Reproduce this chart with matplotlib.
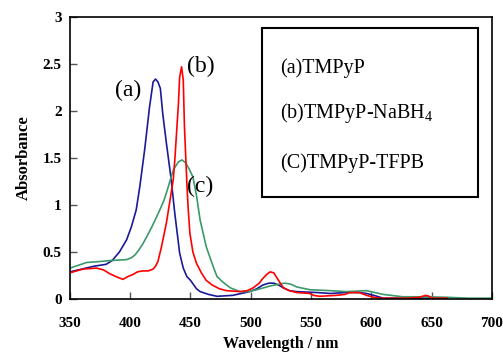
import matplotlib
matplotlib.use("Agg")
import matplotlib.pyplot as plt
from matplotlib.patches import Rectangle

plt.rcParams['font.family'] = ['Liberation Serif', 'DejaVu Serif']
plt.rcParams['mathtext.fontset'] = 'custom'
plt.rcParams['mathtext.rm'] = 'Liberation Serif'
plt.rcParams['mathtext.it'] = 'Liberation Serif:italic'

wl_a = [350, 360, 370, 380, 385, 391, 397, 401, 405, 408, 412, 416, 419, 421, 423, 425, 427, 430,
        433, 434, 437, 441, 444, 447, 450, 455, 458, 465, 472, 485, 499, 505, 510, 515, 519, 523,
        527, 532, 538, 555, 566, 579, 590, 596, 602, 610, 650, 663]
abs_a = [0.29, 0.32, 0.35, 0.37, 0.41, 0.50, 0.63, 0.77, 0.95, 1.20, 1.59, 2.04, 2.31, 2.34, 2.31,
         2.24, 1.97, 1.66, 1.37, 1.27, 0.91, 0.49, 0.33, 0.24, 0.20, 0.11, 0.08, 0.05, 0.03, 0.04,
         0.08, 0.11, 0.15, 0.17, 0.17, 0.15, 0.12, 0.09, 0.08, 0.07, 0.06, 0.07, 0.07, 0.06, 0.04,
         0.01, 0.01, 0.01]

wl_b = [350, 361, 372, 378, 383, 390, 394, 398, 402, 406, 410, 415, 419, 421, 423, 426, 430, 433,
        435.7, 437, 440, 441, 442.6, 444, 445, 447, 448, 449.5, 452, 455, 459, 463, 468, 474, 480,
        491, 497, 502, 507, 510, 513, 516, 519, 521, 524, 527, 532, 538, 549, 552, 557, 571, 578,
        582, 590, 596, 602, 607, 630, 640, 645, 648, 650, 663]
abs_b = [0.28, 0.32, 0.33, 0.31, 0.27, 0.23, 0.21, 0.24, 0.26, 0.29, 0.30, 0.30, 0.32, 0.35, 0.40,
         0.56, 0.81, 1.05, 1.27, 1.48, 2.08, 2.36, 2.47, 2.33, 1.83, 1.23, 0.98, 0.70, 0.50, 0.38,
         0.28, 0.20, 0.15, 0.11, 0.09, 0.08, 0.09, 0.12, 0.17, 0.22, 0.26, 0.29, 0.28, 0.24, 0.18,
         0.12, 0.09, 0.07, 0.06, 0.04, 0.03, 0.04, 0.05, 0.07, 0.07, 0.04, 0.02, 0.01, 0.01, 0.02,
         0.04, 0.03, 0.01, 0.01]

wl_c = [350, 357, 364, 375, 383, 397, 401, 404, 407, 410.6, 414, 418, 421, 424.6, 428, 431, 434,
        436, 440, 443, 446, 449, 452, 455, 458, 463, 466, 469, 472, 477, 483, 491, 498, 505, 516,
        528, 533, 538, 549, 566, 579, 596, 603, 610, 626, 643, 662, 680, 700]
abs_c = [0.33, 0.36, 0.39, 0.40, 0.41, 0.42, 0.44, 0.47, 0.52, 0.59, 0.67, 0.77, 0.85, 0.95, 1.05,
         1.17, 1.30, 1.38, 1.46, 1.48, 1.45, 1.38, 1.30, 1.10, 0.84, 0.56, 0.45, 0.34, 0.24, 0.18,
         0.12, 0.08, 0.08, 0.10, 0.14, 0.17, 0.16, 0.13, 0.10, 0.09, 0.08, 0.09, 0.07, 0.05, 0.025,
         0.025, 0.02, 0.01, 0.01]

x_ticks = [350, 400, 450, 500, 550, 600, 650, 700]
y_ticks = [0, 0.5, 1, 1.5, 2, 2.5, 3]
y_tick_labels = ['0', '0.5', '1', '1.5', '2', '2.5', '3']
legend_lines = ['(a)TMPyP', '(b)TMPyP-NaBH$_4$', '(C)TMPyP-TFPB']
curve_labels = ['(a)', '(b)', '(c)']

fig = plt.figure(figsize=(5.03, 3.54), dpi=100)
ax = fig.add_axes([0.139, 0.155, 0.839, 0.797])

ax.plot(wl_a, abs_a, color='#1a1a99', lw=1.2)
ax.plot(wl_c, abs_c, color='#3a9a6a', lw=1.2)
ax.plot(wl_b, abs_b, color='#ff0000', lw=1.2)

ax.set_xlim(350, 700)
ax.set_ylim(0, 3)
ax.set_xticks(x_ticks)
ax.set_yticks(y_ticks)
ax.set_yticklabels(y_tick_labels)
ax.tick_params(direction='in', length=5, width=1, color='#555555', labelsize=11)
ax.tick_params(axis='x', pad=13)
ax.tick_params(axis='y', pad=6)
for lab in ax.get_xticklabels() + ax.get_yticklabels():
    lab.set_fontweight('bold')
for s in ax.spines.values():
    s.set_linewidth(1.2)
    s.set_color('black')

ax.set_xlabel('Wavelength / nm', fontsize=11.5, fontweight='bold', labelpad=4)
ax.set_ylabel('Absorbance', fontsize=12, fontweight='bold', labelpad=8)

ax.text(398, 2.22, curve_labels[0], fontsize=17, ha='center', va='center')
ax.text(458.6, 2.47, curve_labels[1], fontsize=17, ha='center', va='center')
ax.text(458, 1.20, curve_labels[2], fontsize=17, ha='center', va='center')

ax.add_patch(Rectangle((0.455, 0.362), 0.512, 0.599, transform=ax.transAxes,
                       fill=False, edgecolor='black', lw=1.5, zorder=5))
for t, yy in zip(legend_lines, [0.819, 0.660, 0.482]):
    ax.text(0.498, yy, t, transform=ax.transAxes, fontsize=14.5, ha='left', va='center')

fig.savefig('out.png', dpi=100)
